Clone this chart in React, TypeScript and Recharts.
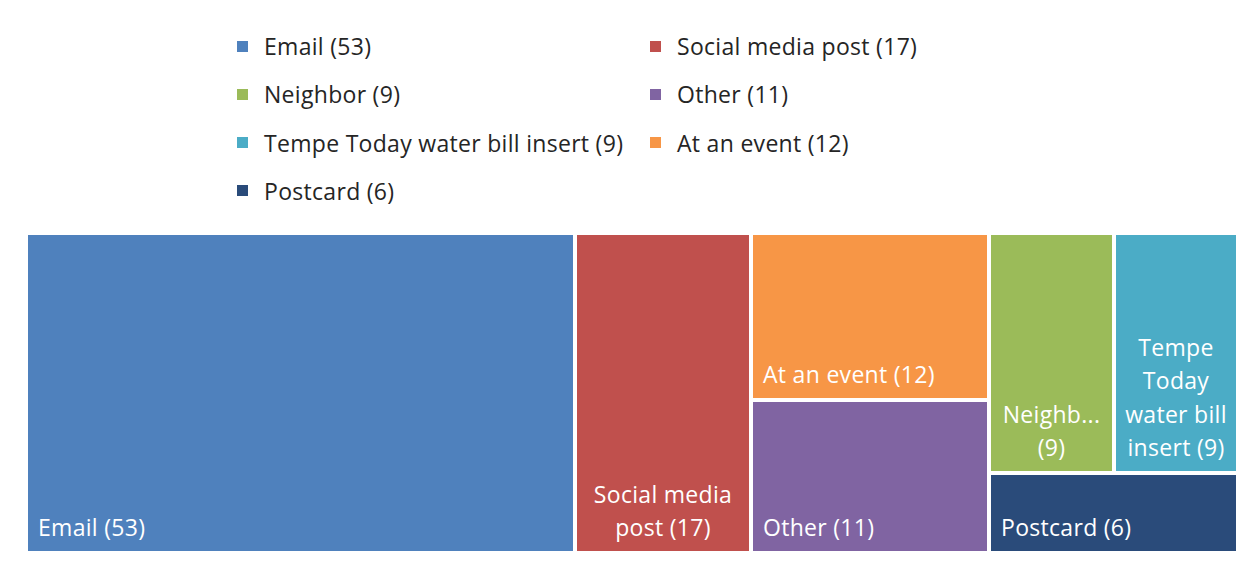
import React from 'react';
import { Treemap } from 'recharts';

const categories = ['Email', 'Social media post', 'At an event', 'Other', 'Neighbor', 'Tempe Today water bill insert', 'Postcard'];
const counts = [53, 17, 12, 11, 9, 9, 6];
const colors = ['#4f81bd', '#c0504d', '#f79646', '#8064a2', '#9bbb59', '#4bacc6', '#2a4b7a'];
// text shown inside each tile, line by line, as it appears in the picture
const tileLabels = [
    ['Email (53)'],
    ['Social media', 'post (17)'],
    ['At an event (12)'],
    ['Other (11)'],
    ['Neighb...', '(9)'],
    ['Tempe', 'Today', 'water bill', 'insert (9)'],
    ['Postcard (6)'],
];
const legendOrder = ['Email', 'Social media post', 'Neighbor', 'Other', 'Tempe Today water bill insert', 'At an event', 'Postcard'];

const FONT = "'Segoe UI', 'Open Sans', sans-serif";

const leaf = (i: number) => ({ name: categories[i], size: counts[i] });

// grouping so the squarified layout gives the same columns as the original
const treeData = [
    leaf(0),
    leaf(1),
    { name: 'events', children: [leaf(2), leaf(3)] },
    { name: 'rest', children: [{ name: 'mail', children: [leaf(4), leaf(5)] }, leaf(6)] },
];

function Tile(props: any) {
    const { x, y, width, height, children, name } = props;
    if (children && children.length) return null;
    const i = categories.indexOf(name);
    if (i < 0) return null;
    const ix = x + 2;
    const iy = y + 2;
    const w = width - 4;
    const h = height - 4;
    const lines = tileLabels[i];
    const single = lines.length === 1;
    const lineH = 33.5;
    const lastBase = iy + h - 15;
    return (
        <g>
            <rect x={ix} y={iy} width={w} height={h} fill={colors[i]} stroke="none" />
            {lines.map((ln, k) => (
                <text
                    key={k}
                    x={single ? ix + 10 : ix + w / 2}
                    y={lastBase - (lines.length - 1 - k) * lineH}
                    textAnchor={single ? 'start' : 'middle'}
                    fill="#ffffff"
                    fontSize={23}
                    letterSpacing={0.3}
                    fontFamily={FONT}
                >
                    {ln}
                </text>
            ))}
        </g>
    );
}

export default function App() {
    return (
        <div style={{ position: 'absolute', left: 0, top: 0, width: 1248, height: 565, background: '#fff', fontFamily: FONT }}>
            <div
                style={{
                    position: 'absolute',
                    left: 237,
                    top: 22,
                    display: 'grid',
                    gridTemplateColumns: '413px 413px',
                    gridAutoRows: '48.3px',
                }}
            >
                {legendOrder.map((nm) => {
                    const i = categories.indexOf(nm);
                    return (
                        <div key={nm} style={{ display: 'flex', alignItems: 'center', height: 48 }}>
                            <span style={{ width: 11, height: 11, background: colors[i], display: 'inline-block', marginRight: 16 }} />
                            <span style={{ fontSize: 23, letterSpacing: 0.3, color: '#252525' }}>
                                {nm} ({counts[i]})
                            </span>
                        </div>
                    );
                })}
            </div>
            <div style={{ position: 'absolute', left: 26, top: 233 }}>
                <Treemap
                    width={1212}
                    height={320}
                    data={treeData}
                    dataKey="size"
                    nameKey="name"
                    aspectRatio={0.5}
                    isAnimationActive={false}
                    content={<Tile />}
                />
            </div>
        </div>
    );
}
